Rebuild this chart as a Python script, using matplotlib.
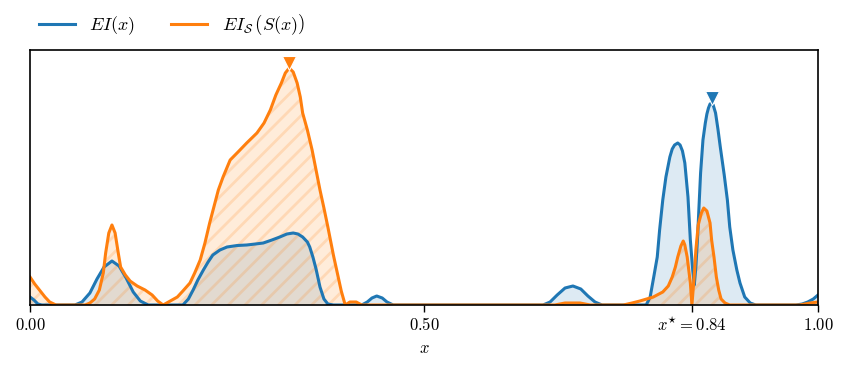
import numpy as np
import matplotlib
matplotlib.use("Agg")
import matplotlib.pyplot as plt

plt.rcParams['mathtext.fontset'] = 'cm'
plt.rcParams['font.family'] = 'serif'
plt.rcParams['font.serif'] = ['DejaVu Serif']
plt.rcParams['hatch.linewidth'] = 2.0

# values (x in [0, 1], EI in arbitrary units)
ei_x = [0.000, 0.005, 0.010, 0.015, 0.057, 0.066, 0.076, 0.085, 0.094, 0.104,
        0.113, 0.122, 0.131, 0.140, 0.150, 0.194, 0.201, 0.207, 0.213, 0.220,
        0.226, 0.232, 0.241, 0.250, 0.263, 0.275, 0.286, 0.296, 0.307, 0.317,
        0.326, 0.334, 0.340, 0.346, 0.352, 0.355, 0.359, 0.363, 0.368, 0.373,
        0.378, 0.385, 0.421, 0.428, 0.434, 0.440, 0.447, 0.453, 0.461, 0.651,
        0.660, 0.669, 0.679, 0.689, 0.699, 0.708, 0.717, 0.726, 0.782, 0.787,
        0.792, 0.796, 0.799, 0.803, 0.807, 0.812, 0.815, 0.818, 0.822, 0.825,
        0.828, 0.831, 0.835, 0.838, 0.841, 0.843, 0.845, 0.847, 0.851, 0.854,
        0.857, 0.859, 0.861, 0.863, 0.865, 0.867, 0.870, 0.873, 0.876, 0.881,
        0.885, 0.888, 0.892, 0.897, 0.901, 0.907, 0.914, 0.921, 0.972, 0.980,
        0.987, 0.994, 1.000]
ei_y = [0.008, 0.005, 0.001, 0.000, 0.000, 0.003, 0.012, 0.026, 0.038, 0.044,
        0.039, 0.027, 0.013, 0.004, 0.000, 0.000, 0.006, 0.015, 0.025, 0.035,
        0.043, 0.050, 0.055, 0.058, 0.0595, 0.060, 0.061, 0.062, 0.065, 0.068,
        0.071, 0.072, 0.071, 0.068, 0.063, 0.058, 0.048, 0.036, 0.018, 0.006,
        0.001, 0.000, 0.000, 0.003, 0.007, 0.009, 0.007, 0.003, 0.000, 0.000,
        0.003, 0.010, 0.017, 0.019, 0.016, 0.009, 0.003, 0.000, 0.000, 0.008,
        0.030, 0.048, 0.075, 0.105, 0.128, 0.148, 0.156, 0.160, 0.162, 0.160,
        0.154, 0.142, 0.108, 0.065, 0.035, 0.020, 0.038, 0.065, 0.132, 0.165,
        0.182, 0.191, 0.197, 0.201, 0.202, 0.200, 0.192, 0.176, 0.158, 0.130,
        0.105, 0.078, 0.055, 0.035, 0.022, 0.008, 0.002, 0.000, 0.000, 0.001,
        0.003, 0.006, 0.010]

eis_x = [0.000, 0.006, 0.013, 0.019, 0.025, 0.033, 0.070, 0.076, 0.082, 0.088,
         0.093, 0.096, 0.100, 0.104, 0.108, 0.112, 0.115, 0.121, 0.127, 0.136,
         0.146, 0.155, 0.162, 0.169, 0.178, 0.187, 0.194, 0.203, 0.209, 0.216,
         0.222, 0.228, 0.234, 0.239, 0.245, 0.254, 0.264, 0.275, 0.288, 0.297,
         0.305, 0.312, 0.319, 0.324, 0.329, 0.334, 0.339, 0.343, 0.346, 0.352,
         0.358, 0.363, 0.368, 0.373, 0.378, 0.385, 0.390, 0.395, 0.400, 0.406,
         0.414, 0.421, 0.666, 0.679, 0.698, 0.711, 0.753, 0.764, 0.774, 0.791,
         0.803, 0.810, 0.815, 0.819, 0.822, 0.826, 0.829, 0.831, 0.834, 0.836,
         0.838, 0.840, 0.843, 0.845, 0.848, 0.852, 0.855, 0.859, 0.863, 0.865,
         0.868, 0.871, 0.874, 0.877, 0.882, 0.888, 0.977, 0.990, 1.000]
eis_y = [0.028, 0.021, 0.014, 0.008, 0.003, 0.000, 0.000, 0.002, 0.006, 0.015,
         0.032, 0.052, 0.072, 0.080, 0.072, 0.052, 0.038, 0.030, 0.024, 0.019,
         0.015, 0.010, 0.004, 0.000, 0.004, 0.008, 0.014, 0.022, 0.032, 0.045,
         0.062, 0.082, 0.100, 0.115, 0.128, 0.145, 0.153, 0.162, 0.172, 0.182,
         0.195, 0.210, 0.222, 0.232, 0.237, 0.233, 0.222, 0.208, 0.192, 0.175,
         0.155, 0.135, 0.115, 0.097, 0.078, 0.050, 0.032, 0.014, 0.000, 0.003,
         0.003, 0.000, 0.000, 0.002, 0.002, 0.000, 0.000, 0.002, 0.004, 0.008,
         0.013, 0.019, 0.028, 0.038, 0.048, 0.059, 0.064, 0.060, 0.048, 0.035,
         0.022, 0.000, 0.030, 0.055, 0.080, 0.092, 0.097, 0.094, 0.082, 0.065,
         0.048, 0.028, 0.015, 0.006, 0.002, 0.000, 0.000, 0.002, 0.003]

tick_pos = [0.0, 0.5, 0.84, 1.0]
tick_labels = ['$0.00$', '$0.50$', '$x^{\\star} = 0.84$', '$1.00$']

blue = '#1f77b4'
orange = '#ff7f0e'

fig = plt.figure(figsize=(8.49, 3.74), dpi=100)
ax = fig.add_axes([30/849, 1-305/374, 788/849, 255/374])

ax.fill_between(ei_x, ei_y, color=blue, alpha=0.15, lw=0)
ax.plot(ei_x, ei_y, color=blue, lw=2.2, label='$EI(x)$')

ax.fill_between(eis_x, eis_y, facecolor=(1, 0.5, 0.05, 0.15),
                edgecolor=(1, 0.5, 0.05, 0.18), hatch='//', lw=0)
ax.plot(eis_x, eis_y, color=orange, lw=2.2,
        label='$EI_{\\mathcal{S}}\\,\\left(S(x)\\right)$')

# markers at the maxima
i = int(np.argmax(ei_y))
ax.plot(ei_x[i], ei_y[i] + 0.005, 'v', color=blue, ms=10, mec='white', mew=0.8, zorder=5)
j = int(np.argmax(eis_y))
ax.plot(eis_x[j], eis_y[j] + 0.005, 'v', color=orange, ms=10, mec='white', mew=0.8, zorder=5)

ax.set_xlim(0, 1)
ax.set_ylim(0, 0.255)
ax.set_yticks([])
ax.set_xticks(tick_pos)
ax.set_xticklabels(tick_labels, fontsize=12)
ax.tick_params(axis='x', length=5, width=1)
ax.set_xlabel('$x$', fontsize=12)
for s in ax.spines.values():
    s.set_linewidth(1.2)

ax.legend(loc='lower left', bbox_to_anchor=(-0.005, 1.0), ncol=2, frameon=False,
          fontsize=13, handlelength=2.0, columnspacing=2.0, borderaxespad=0.3)

fig.savefig('out.png', dpi=100)
